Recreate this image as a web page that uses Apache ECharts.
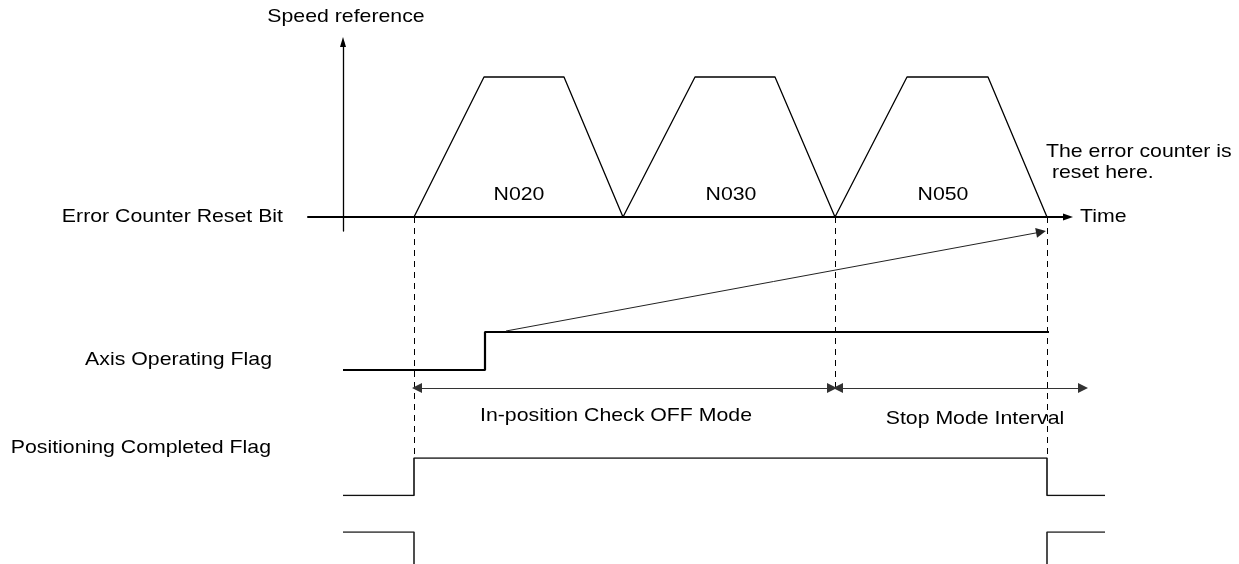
<!DOCTYPE html>
<html><head><meta charset="utf-8">
<script src="https://cdn.jsdelivr.net/npm/echarts@6/dist/echarts.min.js"></script>
<style>html,body{margin:0;padding:0;background:#fff}#c{width:1239px;height:564px}</style>
</head><body><div id="c"></div>
<script>
// ---------------- data (time in diagram units, 0 = speed-axis origin) ----------------
const speedTimes   = [71, 141, 221, 280, 352, 432, 492, 564, 645, 704];
const speedLevels  = [0, 1, 1, 0, 1, 1, 0, 1, 1, 0];
const blockNames   = ['N020', 'N030', 'N050'];

const axisFlagTimes  = [0, 142, 706];
const axisFlagLevels = [0, 1, 1];

const posFlagTimes  = [0, 71, 704, 762];
const posFlagLevels = [0, 1, 0, 0];

const lowerSigTimes  = [0, 71, 704, 762];
const lowerSigLevels = [1, 0, 1, 1];

const guideTimes     = [71, 492, 704];
const intervalNames  = ['In-position Check OFF Mode', 'Stop Mode Interval'];
const intervalStarts = [71, 492];
const intervalEnds   = [492, 743];

const resetNoteLines = ['The error counter is', ' reset here.'];
const noteArrowTimes = [163, 698];
const rowLabels      = ['Error Counter Reset Bit', 'Axis Operating Flag', 'Positioning Completed Flag'];
const axisNames      = ['Speed reference', 'Time'];

const timeMin = -35, timeAxisEnd = 725, timeMax = 762;

// ---------------- layout ----------------
const LEFT = 308;                       // pixel of timeMin
const PX_PER_T = 1;
const W_SPEED = (timeAxisEnd - timeMin) * PX_PER_T;
const W_SIG = (timeMax - timeMin) * PX_PER_T;
const Y_BASE = 217, Y_AXFLAG_HI = 332, Y_POS_HI = 458, Y_LOW_HI = 532;
const Y_GUIDE_MID_END = 387, Y_INTERVAL = 388, Y_NOTE_FROM = 331, Y_NOTE_TO = 232;

const FONT = '19px "Liberation Sans", Arial, Helvetica, sans-serif';
const SX = 1.12;

const zip = (a, b) => a.map((v, i) => [v, b[i]]);
const hiddenX = (gi, max) => ({type: 'value', gridIndex: gi, min: timeMin, max: max, show: false});
const hiddenY = (gi, min, max, inverse) => ({type: 'value', gridIndex: gi, min: min, max: max, inverse: !!inverse, show: false});

const chart = echarts.init(document.getElementById('c'), null, {renderer: 'canvas'});

const speedTopV = 1.25, speedBotV = -0.1, speedPxPerV = 140;
// lower signal: 48 px per level unit, only the top 32 px are inside the picture
const lowPxPerV = 48, lowVisiblePx = 32;

const option = {
  animation: false,
  backgroundColor: '#fff',
  grid: [
    {left: LEFT, width: W_SPEED, top: Y_BASE - speedTopV * speedPxPerV, height: (speedTopV - speedBotV) * speedPxPerV},
    {left: LEFT, width: W_SIG, top: Y_AXFLAG_HI, height: 38},
    {left: LEFT, width: W_SIG, top: Y_POS_HI, height: 37.5},
    {left: LEFT, width: W_SIG, top: Y_LOW_HI, height: lowVisiblePx},
    {left: LEFT, width: W_SIG, top: 0, height: 564}
  ],
  xAxis: [
    {type: 'value', gridIndex: 0, min: timeMin, max: timeAxisEnd,
     axisLine: {show: true, onZero: true, symbol: ['none', 'triangle'], symbolSize: [7, 10], symbolOffset: [0, 0],
                lineStyle: {color: '#000', width: 2}},
     axisTick: {show: false}, axisLabel: {show: false}, splitLine: {show: false}},
    hiddenX(1, timeMax), hiddenX(2, timeMax), hiddenX(3, timeMax), hiddenX(4, timeMax)
  ],
  yAxis: [
    {type: 'value', gridIndex: 0, min: speedBotV, max: speedTopV,
     axisLine: {show: true, onZero: true, symbol: ['none', 'triangle'], symbolSize: [6, 10],
                lineStyle: {color: '#000', width: 1.3}},
     axisTick: {show: false}, axisLabel: {show: false}, splitLine: {show: false}},
    hiddenY(1, 0, 1), hiddenY(2, 0, 1), hiddenY(3, 1 - lowVisiblePx / lowPxPerV, 1), hiddenY(4, 0, 564, true)
  ],
  series: [
    {type: 'line', xAxisIndex: 0, yAxisIndex: 0, data: zip(speedTimes, speedLevels), symbol: 'none', silent: true,
     lineStyle: {color: '#000', width: 1.3}},
    {type: 'line', xAxisIndex: 1, yAxisIndex: 1, data: zip(axisFlagTimes, axisFlagLevels), step: 'end', symbol: 'none', silent: true,
     lineStyle: {color: '#000', width: 2.2}},
    {type: 'line', xAxisIndex: 2, yAxisIndex: 2, data: zip(posFlagTimes, posFlagLevels), step: 'end', symbol: 'none', silent: true,
     lineStyle: {color: '#111', width: 1.6}},
    {type: 'line', xAxisIndex: 3, yAxisIndex: 3, data: zip(lowerSigTimes, lowerSigLevels), step: 'end', symbol: 'none', silent: true,
     clip: true, lineStyle: {color: '#222', width: 1.6}},
    // dashed event guides
    {type: 'line', xAxisIndex: 4, yAxisIndex: 4, data: [], silent: true,
     markLine: {silent: true, symbol: ['none', 'none'], label: {show: false},
       lineStyle: {color: '#000', width: 1, type: [6, 5]},
       data: guideTimes.map((t, i) => [{coord: [t, Y_BASE]}, {coord: [t, i === 1 ? Y_GUIDE_MID_END : Y_POS_HI]}])}},
    // interval double arrows
    {type: 'line', xAxisIndex: 4, yAxisIndex: 4, data: [], silent: true,
     markLine: {silent: true, symbol: ['triangle', 'triangle'], symbolSize: 10, label: {show: false},
       lineStyle: {color: '#333', width: 1, type: 'solid'},
       data: intervalStarts.map((s, i) => [{coord: [s + 3, Y_INTERVAL]}, {coord: [intervalEnds[i] - 3, Y_INTERVAL]}])}},
    // note arrow
    {type: 'line', xAxisIndex: 4, yAxisIndex: 4, data: [], silent: true,
     markLine: {silent: true, symbol: ['none', 'triangle'], symbolSize: 10, label: {show: false},
       lineStyle: {color: '#222', width: 1, type: 'solid'},
       data: [[{coord: [noteArrowTimes[0], Y_NOTE_FROM]}, {coord: [noteArrowTimes[1], Y_NOTE_TO]}]]}}
  ]
};

function txt(text, x, y, align) {
  return {type: 'text', x: x, y: y, scaleX: SX, silent: true,
    style: {text: text, font: FONT, fill: '#000', textAlign: align, textVerticalAlign: 'middle',
            align: align, verticalAlign: 'middle'}};
}
option.graphic = [
  txt(axisNames[0], 346, 17, 'center'),
  txt(axisNames[1], 1080, Y_BASE, 'left'),
  txt(blockNames[0], 519, 195, 'center'),
  txt(blockNames[1], 731, 195, 'center'),
  txt(blockNames[2], 943, 195, 'center'),
  txt(resetNoteLines[0], 1046, 152, 'left'),
  txt(resetNoteLines[1], 1046, 173, 'left'),
  txt(rowLabels[0], 283, Y_BASE, 'right'),
  txt(rowLabels[1], 272, 360, 'right'),
  txt(rowLabels[2], 271, 448, 'right'),
  txt(intervalNames[0], 616, 416, 'center'),
  txt(intervalNames[1], 975, 419, 'center')
];
chart.setOption(option);
</script></body></html>
